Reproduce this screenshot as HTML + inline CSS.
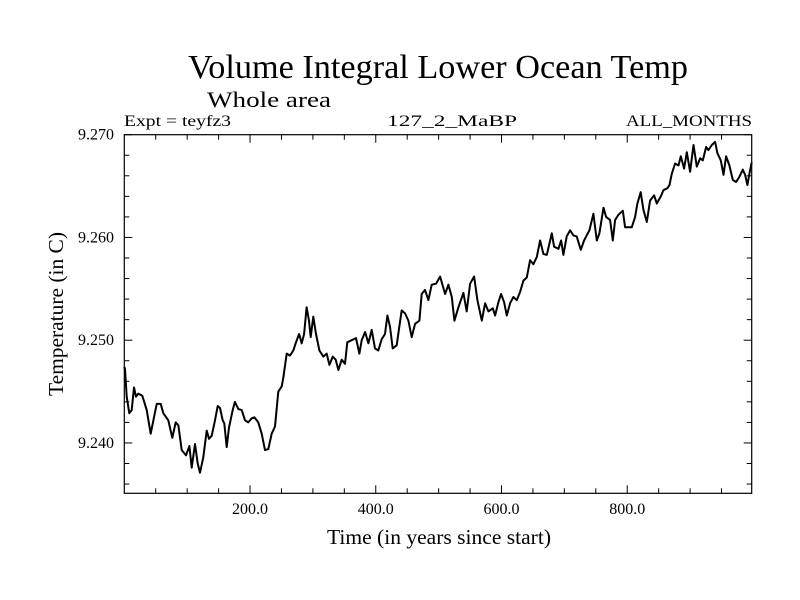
<!DOCTYPE html>
<html><head><meta charset="utf-8"><style>
html,body{margin:0;padding:0;background:#fff}
svg{display:block;font-family:"Liberation Serif",serif}
</style></head><body>
<svg id="chart" width="800" height="600" viewBox="0 0 800 600" xmlns="http://www.w3.org/2000/svg">
<rect width="800" height="600" fill="#fff"/>
<text x="188" y="78" font-size="34" textLength="500" lengthAdjust="spacingAndGlyphs">Volume Integral Lower Ocean Temp</text>
<text x="207" y="107" font-size="22" textLength="124" lengthAdjust="spacingAndGlyphs">Whole area</text>
<text x="124" y="126" font-size="16" textLength="107" lengthAdjust="spacingAndGlyphs">Expt = teyfz3</text>
<text x="387" y="126" font-size="16" textLength="130" lengthAdjust="spacingAndGlyphs">127_2_MaBP</text>
<text x="626" y="126" font-size="16" textLength="126" lengthAdjust="spacingAndGlyphs">ALL_MONTHS</text>
<text x="327" y="544" font-size="21" textLength="224" lengthAdjust="spacingAndGlyphs">Time (in years since start)</text>
<text transform="translate(63,396) rotate(-90)" font-size="21" textLength="164" lengthAdjust="spacingAndGlyphs">Temperature (in C)</text>
<g id="axes"></g>
<path id="series" fill="none" stroke="#000" stroke-width="2" stroke-linejoin="round"/>
<rect x="124.3" y="134.7" width="627.4" height="358.6" fill="none" stroke="#000" stroke-width="1.2"/>
</svg>
<script>
const years=[0,1.1,3.8,8,11.7,15.4,18.6,22.3,28.7,35.6,42,51.5,57.9,62,70,76.4,81.7,86,91.3,98.2,103.5,107.2,112.5,116.7,120.4,125.7,131,134.7,139,144.3,148.5,152.3,156.5,159.1,162.9,166.6,172.4,176,181.4,186.7,192,197.3,202.6,206.9,213.2,218.5,223.8,229.1,234.5,239.7,245,250.4,253,258.3,263.6,268.9,273.2,278,282.2,286,290,293.8,296.5,300.7,305,310.3,316.6,322,326.2,331.5,336.3,340.5,345.8,351.1,354.8,361.7,368.6,374,377.6,383,388.3,393.5,398.8,404.1,409.4,414.7,418.5,422.7,427,433.3,437.5,441.3,446.6,451.9,457.2,462.5,469.4,473,478.4,483.7,489,495.9,502.3,510.3,515.6,520.9,525.1,531.5,539.4,544.7,550,556.4,561.7,568.6,573.9,579.2,586.1,589.8,595.1,599.4,604.1,608.4,613.7,619,624.3,629.6,634.9,640.2,645.5,650.8,656.1,661.4,666.7,672,680,683.7,690.6,694.8,698.5,703.8,709.1,714.4,719.7,726.1,731.4,735.6,739.9,746.2,751.6,755.8,762.2,766.4,772.8,777,780.7,786,792.9,796.6,801.9,807.2,812.5,816.2,821.5,825.8,831.1,836.4,842.8,847,853.4,857.6,864,867.2,870.9,876.2,881.5,885.2,890.5,894.7,900,905.4,910.6,916,920.2,925.5,929.2,934.5,939.8,943.5,948.8,953.1,957.3,962.6,967.9,973.2,978.5,983.8,987.5,991.2,994.4,998];
const temps=[9.2474,9.2472,9.2445,9.2429,9.2432,9.2454,9.2445,9.2448,9.2446,9.2432,9.2409,9.2438,9.2438,9.2429,9.2422,9.2405,9.2420,9.2417,9.2393,9.2388,9.2397,9.2376,9.2399,9.2380,9.2371,9.2386,9.2412,9.2404,9.2407,9.2422,9.2436,9.2434,9.2422,9.2419,9.2396,9.2415,9.2432,9.2440,9.2433,9.2432,9.2422,9.2420,9.2424,9.2425,9.2420,9.2409,9.2393,9.2394,9.2409,9.2416,9.2450,9.2455,9.2464,9.2487,9.2485,9.2490,9.2498,9.2506,9.2497,9.2506,9.2532,9.2519,9.2503,9.2523,9.2506,9.2490,9.2484,9.2487,9.2476,9.2484,9.2481,9.2471,9.2481,9.2477,9.2498,9.2500,9.2502,9.2487,9.2500,9.2508,9.2497,9.2510,9.2492,9.2490,9.2501,9.2506,9.2524,9.2513,9.2492,9.2495,9.2513,9.2529,9.2526,9.2519,9.2503,9.2516,9.2519,9.2545,9.2549,9.2539,9.2554,9.2555,9.2562,9.2545,9.2554,9.2542,9.2519,9.2532,9.2546,9.2528,9.2555,9.2562,9.2539,9.2519,9.2536,9.2528,9.2531,9.2524,9.2537,9.2545,9.2537,9.2524,9.2536,9.2542,9.2539,9.2547,9.2558,9.2561,9.2578,9.2574,9.2581,9.2597,9.2584,9.2583,9.2604,9.2591,9.2589,9.2597,9.2583,9.2601,9.2607,9.2602,9.2601,9.2588,9.2597,9.2602,9.2607,9.2623,9.2597,9.2604,9.2629,9.2620,9.2617,9.2597,9.2617,9.2622,9.2626,9.2610,9.2610,9.2610,9.2620,9.2633,9.2644,9.2627,9.2615,9.2636,9.2641,9.2633,9.2640,9.2646,9.2648,9.2651,9.2662,9.2672,9.2670,9.2679,9.2667,9.2683,9.2664,9.2690,9.2669,9.2677,9.2675,9.2688,9.2685,9.2690,9.2693,9.2682,9.2675,9.2661,9.2679,9.2670,9.2656,9.2654,9.2659,9.2666,9.2661,9.2651,9.2662,9.2673];
const xTickValues=[200,400,600,800];
const xTickLabels=["200.0","400.0","600.0","800.0"];
const yTickValues=[9.240,9.250,9.260,9.270];
const yTickLabels=["9.240","9.250","9.260","9.270"];

const X0=124.3,X1=751.7,Y0=493.3,Y1=134.7;
const xMin=0,xMax=998,yMin=9.2351,yMax=9.2700;
function xs(v){return X0+(v-xMin)/(xMax-xMin)*(X1-X0);}
function ys(v){return Y0-(v-yMin)/(yMax-yMin)*(Y0-Y1);}
const NS="http://www.w3.org/2000/svg";
const axes=document.getElementById('axes');
function line(x1,y1,x2,y2,name){
  const l=document.createElementNS(NS,'line');
  l.setAttribute('x1',x1);l.setAttribute('y1',y1);l.setAttribute('x2',x2);l.setAttribute('y2',y2);
  l.setAttribute('stroke','#000');l.setAttribute('stroke-width','1');
  
  
  axes.appendChild(l);
}
function text(x,y,s,anchor,name){
  const t=document.createElementNS(NS,'text');
  t.setAttribute('x',x);t.setAttribute('y',y);t.setAttribute('font-size','16');
  t.setAttribute('text-anchor',anchor);t.textContent=s;
  
  
  axes.appendChild(t);
}
// x ticks every 50 years
for(let v=50;v<xMax;v+=50){
  const major=v%200===0, len=major?8:5, x=xs(v);
  line(x,Y0,x,Y0-len,'x-tick');
  line(x,Y1,x,Y1+len,'x-tick-top');
}
// y ticks every 0.002
for(let k=0;k<=17;k++){
  const v=9.236+k*0.002; if(v>yMax+1e-6) break;
  const major=Math.abs(((v-9.240)/0.01)-Math.round((v-9.240)/0.01))<1e-4, len=major?8:5, y=ys(v);
  line(X0,y,X0+len,y,'y-tick');
  line(X1,y,X1-len,y,'y-tick-right');
}
xTickValues.forEach((v,i)=>text(xs(v),514,xTickLabels[i],'middle','x-tick-label'));
yTickValues.forEach((v,i)=>text(114,ys(v)+5,yTickLabels[i],'end','y-tick-label'));
let d='';
years.forEach((yr,i)=>{d+=(i?'L':'M')+xs(yr).toFixed(1)+','+ys(temps[i]).toFixed(1);});
document.getElementById('series').setAttribute('d',d);
</script>
</body></html>
